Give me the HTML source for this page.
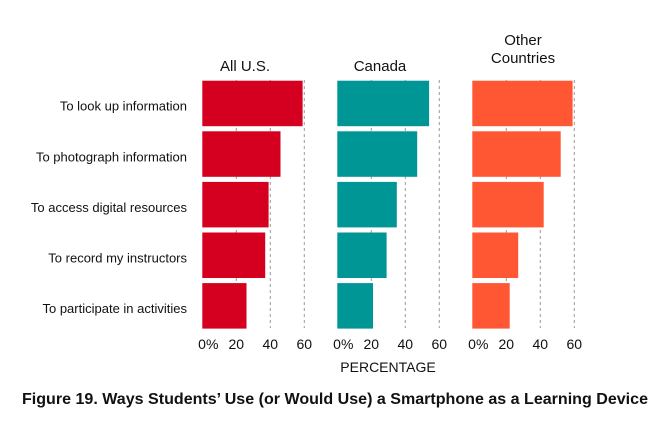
<!DOCTYPE html>
<html><head><meta charset="utf-8"><style>
body{margin:0;background:#fff;width:669px;height:432px;overflow:hidden;font-family:"Liberation Sans",sans-serif}
</style></head><body>
<svg width="669" height="432" id="c"></svg>
<script>
const categories=["To look up information","To photograph information","To access digital resources","To record my instructors","To participate in activities"];
const panelNames=["All U.S.","Canada","Other Countries"];
const usValues=[59,46,39,37,26];
const canadaValues=[54,47,35,29,21];
const otherValues=[59,52,42,27,22];
const ticks=[0,20,40,60];
const tickLabels=["0%","20","40","60"];
const series=[usValues,canadaValues,otherValues];
const colors=["#d5001f","#009696","#ff5733"];
const origins=[202.3,337.3,472.3];
const scale=1.7;
const NS="http://www.w3.org/2000/svg";
const svg=document.getElementById('c');
function x(p,v){return origins[p]+v*scale;}
function y(i){return 80.7+i*50.6;}
function mk(t,a,txt){const e=document.createElementNS(NS,t);for(const k in a)e.setAttribute(k,a[k]);if(txt!=null)e.textContent=txt;svg.appendChild(e);return e;}
categories.forEach((c,i)=>{
 const t=mk('text',{x:187,y:y(i)+30,'text-anchor':'end','font-size':'13',fill:'#111'},c);
 
 
});
for(let p=0;p<3;p++){
 ticks.forEach((tv,k)=>{
  if(tv>0){const l=mk('line',{x1:x(p,tv),x2:x(p,tv),y1:80,y2:328,stroke:'#999','stroke-width':1,'stroke-dasharray':'3,3'});
  
  }
  const t=mk('text',{x:x(p,tv)+(tv===0?6:0),y:349,'text-anchor':'middle','font-size':'14',fill:'#111'},tickLabels[k]);
  
  
 });
 series[p].forEach((v,i)=>{
  const r=mk('rect',{x:origins[p],y:y(i),width:v*scale,height:45.5,fill:colors[p]});
  
  
 });
}
let t;
t=mk('text',{x:245,y:71,'text-anchor':'middle','font-size':'15',fill:'#111'},panelNames[0]);

t=mk('text',{x:380,y:71,'text-anchor':'middle','font-size':'15',fill:'#111'},panelNames[1]);

t=mk('text',{x:523,y:45,'text-anchor':'middle','font-size':'15',fill:'#111'},"Other");

t=mk('text',{x:523,y:63,'text-anchor':'middle','font-size':'15',fill:'#111'},"Countries");

t=mk('text',{x:388,y:372,'text-anchor':'middle','font-size':'14',fill:'#111'},"PERCENTAGE");

t=mk('text',{x:22,y:404,'font-size':'16','font-weight':'bold',fill:'#111',textLength:626,lengthAdjust:'spacingAndGlyphs'},"Figure 19. Ways Students’ Use (or Would Use) a Smartphone as a Learning Device");

</script>
</body></html>
